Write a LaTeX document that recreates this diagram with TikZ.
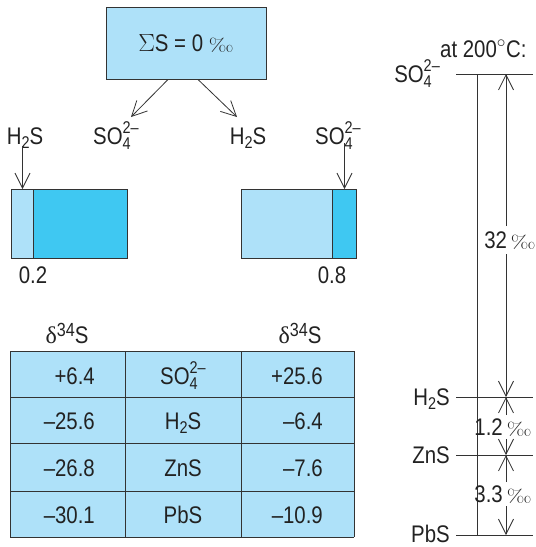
\documentclass[tikz,border=0pt]{standalone}
\usepackage{fontspec}
\setmainfont[FakeStretch=0.85]{Liberation Sans}
\newfontfamily\lmr{Latin Modern Roman}
\newfontfamily\lser{Liberation Serif}
\usetikzlibrary{arrows.meta}
\definecolor{lb}{HTML}{AEE1F9}
\definecolor{db}{HTML}{3FC8F2}
\definecolor{ln}{HTML}{333333}
\definecolor{tx}{HTML}{222222}
\newcommand\bsz{\fontsize{24}{26}\selectfont}
\newcommand\ssz{\fontsize{17}{17}\selectfont}
\newcommand\pmil{\scalebox{1.15}[0.9]{\lmr\fontsize{20}{20}\selectfont ‰}}
\newcommand\HtwoS{H\raisebox{-0.35ex}{\ssz 2}S}
\newcommand\SOfour{SO\rlap{\raisebox{-0.4ex}{\ssz 4}}\raisebox{0.85ex}{\ssz 2--}}
\newcommand\dS{{\lser δ}\raisebox{0.55ex}{\fontsize{19}{19}\selectfont 34}S}
\begin{document}
\begin{tikzpicture}[x=1pt,y=-1pt,
  every node/.style={text=tx, font=\bsz, inner sep=0pt},
  arr/.style={draw=ln, line width=0.8pt, -{Straight Barb[length=15pt,width=15pt,line width=0.8pt]}},
  boxst/.style={draw=ln, line width=1pt, anchor=north west, minimum height=69pt},
  lab/.style={anchor=base},
  labr/.style={anchor=base east},
  dim/.style={anchor=base, inner xsep=1pt, inner ysep=3pt},
  rl/.style={draw=ln, line width=0.9pt}]
\useasboundingbox (0,0) rectangle (536,547);

% top box
\node[draw=ln, fill=lb, line width=1pt, minimum width=160pt, minimum height=72pt] (sum) at (186,43) {$\Sigma$S = 0 \pmil};
\node[lab] (so4M) at (116,144) {\SOfour};
\node[lab] (h2sM) at (248,144) {\HtwoS};
\coordinate (tipL) at (131,117);
\coordinate (tipR) at (237,117);
\draw[arr] ([xshift=-18pt]sum.south) -- (tipL);
\draw[arr] ([xshift=12pt]sum.south) -- (tipR);

% left pair
\node[lab] (h2sL) at (25,144) {\HtwoS};
\node[boxst, fill=lb, minimum width=22pt] (bLa) at (11,189) {};
\node[boxst, fill=db, minimum width=94pt] (bLb) at (33,189) {};
\draw[arr] ([yshift=3pt]h2sL.south -| bLa.north) -- (bLa.north);
\node[lab] (v02) at (33,283) {0.2};

% right pair
\node[lab] (so4R) at (338,144) {\SOfour};
\node[boxst, fill=lb, minimum width=91pt] (bRa) at (241,189) {};
\node[boxst, fill=db, minimum width=24pt] (bRb) at (332,189) {};
\draw[arr] ([yshift=6pt]so4R.south -| bRb.north) -- (bRb.north);
\node[lab] (v08) at (332,283) {0.8};

% table
\node[lab] (hd1) at (67,343) {\dS};
\node[lab] (hd2) at (300,343) {\dS};
\fill[lb] (10,351) rectangle (354,537);
\foreach \y in {351,397,443,491,537} \draw[rl] (10,\y) -- (354,\y);
\foreach \x in {10,125,241,354} \draw[rl] (\x,351) -- (\x,537);
\node[labr] (a1) at (95,384) {+6.4};
\node[lab]  (b1) at (183,384) {\SOfour};
\node[labr] (c1) at (323,384) {+25.6};
\node[labr] (a2) at (95,429) {--25.6};
\node[lab]  (b2) at (183,429) {\HtwoS};
\node[labr] (c2) at (323,429) {--6.4};
\node[labr] (a3) at (95,476) {--26.8};
\node[lab]  (b3) at (183,476) {ZnS};
\node[labr] (c3) at (323,476) {--7.6};
\node[labr] (a4) at (95,523) {--30.1};
\node[lab]  (b4) at (183,523) {PbS};
\node[labr] (c4) at (323,523) {--10.9};

% right diagram
\node[anchor=base west] (at200) at (440,57) {at 200$^\circ$C:};
\node[labr] (rs) at (440,82.5) {\SOfour};
\node[labr] (rh) at (450,405.5) {\HtwoS};
\node[labr] (rz) at (450,463.5) {ZnS};
\node[labr] (rp) at (450,542.5) {PbS};
\coordinate (l1a) at (456,74);  \coordinate (l1b) at (533,74);
\coordinate (l2a) at (456,397); \coordinate (l2b) at (533,397);
\coordinate (l3a) at (456,455); \coordinate (l3b) at (533,455);
\coordinate (l4a) at (456,535); \coordinate (l4b) at (533,535);
\draw[rl] (l1a) -- (l1b);
\draw[rl] (l2a) -- (l2b);
\draw[rl] (l3a) -- (l3b);
\draw[rl] (l4a) -- (l4b);
\coordinate (vt) at (477,74); \coordinate (vb) at (477,535);
\draw[rl] (vt) -- (vb);
\coordinate (vA) at (506,74);
\coordinate (vB) at (506,397);
\coordinate (vC) at (506,455);
\coordinate (vD) at (506,535);
\node[dim, inner ysep=5pt] (d32) at (510,248) {32\,\pmil};
\node[dim] (d12) at (503,435) {1.2\,\pmil};
\node[dim] (d33) at (503,502) {3.3\,\pmil};
\draw[arr] (d32.north -| vA) -- (vA);
\draw[arr] (d32.south -| vA) -- (vB);
\draw[arr] (d12.north -| vA) -- (vB);
\draw[arr] (d12.south -| vA) -- (vC);
\draw[arr] (d33.north -| vA) -- (vC);
\draw[arr] (d33.south -| vA) -- (vD);
\end{tikzpicture}
\end{document}
